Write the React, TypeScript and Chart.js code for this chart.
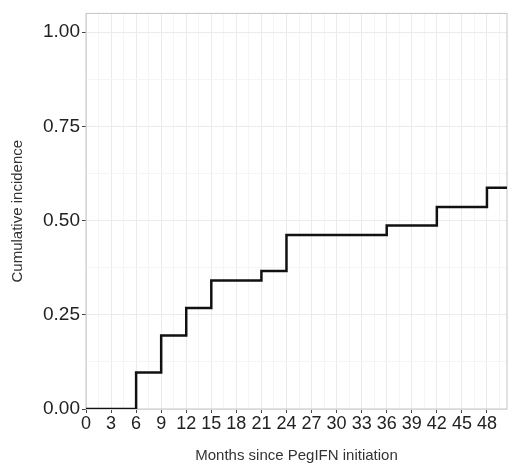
import React, { useEffect, useRef } from 'react';
import { Chart, registerables } from 'chart.js';

Chart.register(...registerables);

// step points of the cumulative incidence curve (month, incidence)
const months = [0, 6, 9, 12, 15, 21, 24, 36, 42, 48, 50.4];
const incidence = [0, 0.097, 0.195, 0.268, 0.341, 0.366, 0.462, 0.487, 0.536, 0.587, 0.587];

const xTicks = [0, 3, 6, 9, 12, 15, 18, 21, 24, 27, 30, 33, 36, 39, 42, 45, 48];
const yTicks = [0, 0.25, 0.5, 0.75, 1.0];

const X_MAX = 50.4;
const Y_MAX = 1.05;

// major breaks plus minor ones halfway between
const withMinor = (major: number[], step: number, limit: number) => {
  const out: { value: number; major: boolean }[] = [];
  major.forEach((v) => {
    out.push({ value: v, major: true });
    if (v + step / 2 < limit) out.push({ value: v + step / 2, major: false });
  });
  return out;
};

const isMajor = (list: number[], v: number) => list.some((t) => Math.abs(t - v) < 1e-6);

const panelBorder = {
  id: 'panelBorder',
  beforeDatasetsDraw(chart: Chart) {
    const { ctx, chartArea } = chart;
    ctx.save();
    ctx.strokeStyle = '#c4c4c4';
    ctx.lineWidth = 1;
    ctx.strokeRect(chartArea.left, chartArea.top, chartArea.right - chartArea.left, chartArea.bottom - chartArea.top);
    ctx.restore();
  },
};

const App: React.FC = () => {
  const canvasRef = useRef<HTMLCanvasElement | null>(null);
  const chartRef = useRef<Chart | null>(null);

  useEffect(() => {
    if (!canvasRef.current) return;
    if (chartRef.current) chartRef.current.destroy();

    const points = months.map((m, i) => ({ x: m, y: incidence[i] }));

    chartRef.current = new Chart(canvasRef.current, {
      type: 'line',
      data: {
        datasets: [
          {
            data: points,
            borderColor: '#111',
            borderWidth: 2.5,
            pointRadius: 0,
            stepped: 'before',
            fill: false,
          },
        ],
      },
      options: {
        animation: false,
        responsive: true,
        maintainAspectRatio: false,
        layout: { padding: { top: 9, right: 13, left: 0, bottom: 0 } },
        plugins: {
          legend: { display: false },
          tooltip: { enabled: false },
        },
        scales: {
          x: {
            type: 'linear',
            min: 0,
            max: X_MAX,
            afterBuildTicks: (scale: any) => {
              scale.ticks = withMinor(xTicks, 3, X_MAX).map((t) => ({ value: t.value }));
            },
            afterFit: (scale: any) => {
              scale.height = 67;
            },
            ticks: {
              autoSkip: false,
              maxRotation: 0,
              padding: 0,
              color: '#222',
              font: { family: "'Liberation Sans', Arial, sans-serif", size: 18 },
              callback: (v: any) => (isMajor(xTicks, Number(v)) ? String(v) : ''),
            },
            grid: {
              color: (c: any) => (isMajor(xTicks, c.tick?.value) ? '#ebebeb' : '#f5f5f5'),
              tickColor: (c: any) => (isMajor(xTicks, c.tick?.value) ? '#444' : 'rgba(0,0,0,0)'),
              tickLength: 4,
              lineWidth: 1,
            },
            border: { display: false },
            title: {
              display: true,
              text: 'Months since PegIFN initiation',
              color: '#333',
              font: { family: "'Liberation Sans', Arial, sans-serif", size: 15 },
              padding: { top: 0, bottom: 11 },
            },
          },
          y: {
            type: 'linear',
            min: 0,
            max: Y_MAX,
            afterBuildTicks: (scale: any) => {
              scale.ticks = withMinor(yTicks, 0.25, Y_MAX).map((t) => ({ value: t.value }));
            },
            afterFit: (scale: any) => {
              scale.width = 86;
            },
            ticks: {
              autoSkip: false,
              padding: 2,
              color: '#222',
              font: { family: "'Liberation Sans', Arial, sans-serif", size: 19 },
              callback: (v: any) => (isMajor(yTicks, Number(v)) ? Number(v).toFixed(2) : ''),
            },
            grid: {
              color: (c: any) => (isMajor(yTicks, c.tick?.value) ? '#ebebeb' : '#f5f5f5'),
              tickColor: (c: any) => (isMajor(yTicks, c.tick?.value) ? '#444' : 'rgba(0,0,0,0)'),
              tickLength: 4,
              lineWidth: 1,
            },
            border: { display: false },
            title: {
              display: true,
              text: 'Cumulative incidence',
              color: '#333',
              font: { family: "'Liberation Sans', Arial, sans-serif", size: 15 },
              padding: { top: 9, bottom: 0 },
            },
          },
        },
      },
      plugins: [panelBorder],
    });

    return () => {
      if (chartRef.current) {
        chartRef.current.destroy();
        chartRef.current = null;
      }
    };
  }, []);

  return (
    <div style={{ position: 'absolute', left: 0, top: 0, width: 520, height: 476, background: '#fff' }}>
      <canvas ref={canvasRef} />
    </div>
  );
};

export default App;
